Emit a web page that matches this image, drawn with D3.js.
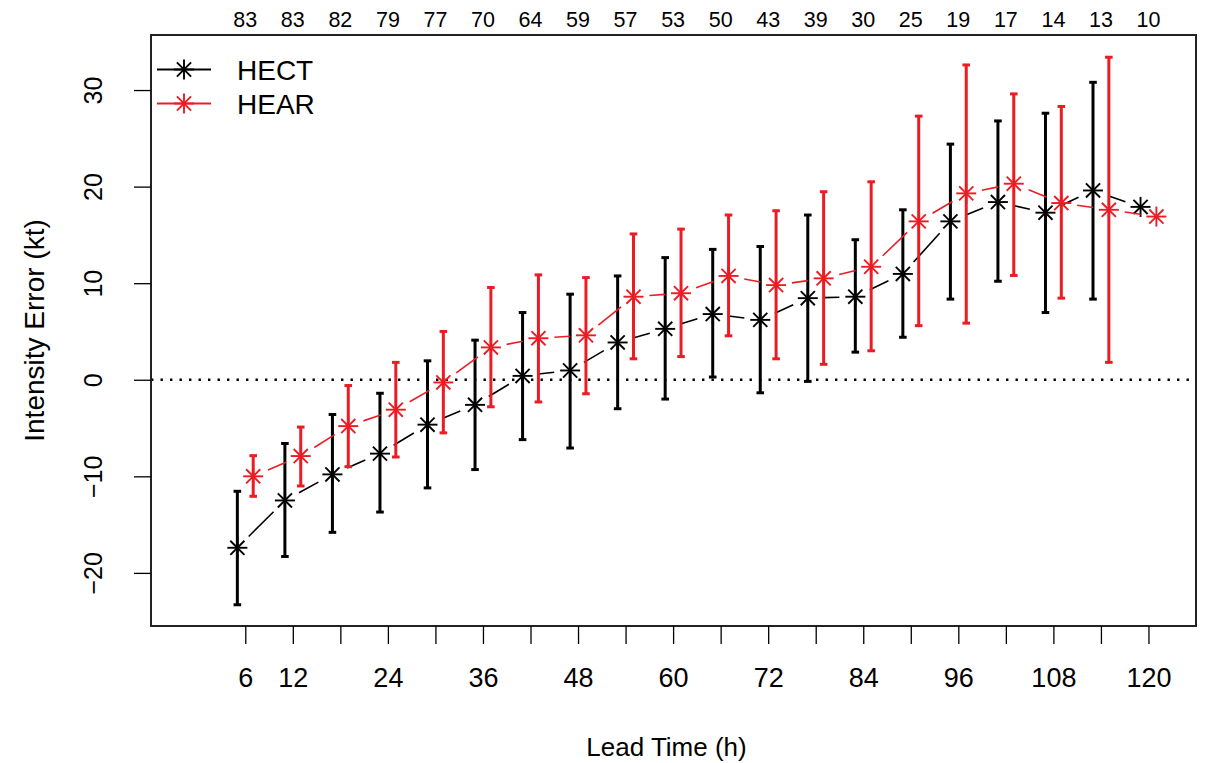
<!DOCTYPE html>
<html>
<head>
<meta charset="utf-8">
<script src="https://cdn.jsdelivr.net/npm/d3@7"></script>
<style>
  html, body { margin: 0; padding: 0; background: #fff; }
  svg text { font-family: "Liberation Sans", Arial, Helvetica, sans-serif; fill: #000; }
</style>
</head>
<body>
<svg id="chart" width="1206" height="763"></svg>
<script>
// ---- data ----
const leadTimes = [6,12,18,24,30,36,42,48,54,60,66,72,78,84,90,96,102,108,114,120];
const xTickLabels = ["6","12","","24","","36","","48","","60","","72","","84","","96","","108","","120"];
const sampleCounts = [83,83,82,79,77,70,64,59,57,53,50,43,39,30,25,19,17,14,13,10];
const yTicks = [-20,-10,0,10,20,30];
const seriesNames = ["HECT","HEAR"];
const seriesColors = ["#000000","#ec1c24"];
const seriesOffsets = [-1, 1];

const hectMean = [-17.4,-12.5,-9.8,-7.65,-4.65,-2.6,0.4,0.96,3.86,5.27,6.8,6.2,8.45,8.6,10.96,16.4,18.4,17.3,19.6,17.9];
const hectLow  = [-23.3,-18.3,-15.8,-13.7,-11.2,-9.3,-6.2,-7.07,-3.0,-2.0,0.28,-1.35,-0.17,2.86,4.4,8.35,10.2,6.96,8.35,null];
const hectHigh = [-11.55,-6.6,-3.6,-1.4,1.96,4.1,6.96,8.86,10.75,12.65,13.5,13.8,17.06,14.5,17.6,24.4,26.8,27.6,30.8,null];

const hearMean = [-10.0,-7.9,-4.8,-3.1,-0.28,3.35,4.3,4.6,8.6,8.96,10.75,9.8,10.5,11.7,16.4,19.3,20.3,18.3,17.6,16.9];
const hearLow  = [-12.07,-11.0,-9.0,-8.0,-5.5,-2.8,-2.3,-1.45,2.17,2.4,4.55,2.17,1.6,3.0,5.6,5.86,10.8,8.45,1.8,null];
const hearHigh = [-7.86,-4.9,-0.6,1.8,5.0,9.55,10.86,10.58,15.1,15.6,17.06,17.5,19.47,20.5,27.3,32.6,29.6,28.3,33.4,null];

// ---- layout ----
const svg = d3.select("#chart");
const L = 151, R = 1196, T = 35, B = 626;
const x = d3.scaleLinear().domain([-5.9, 126.0]).range([L, R]);
const y = d3.scaleLinear().domain([-25.5, 35.7]).range([B, T]);

const series = [
  { name: seriesNames[0], color: seriesColors[0], off: seriesOffsets[0], mean: hectMean, low: hectLow, high: hectHigh },
  { name: seriesNames[1], color: seriesColors[1], off: seriesOffsets[1], mean: hearMean, low: hearLow, high: hearHigh }
];

// zero reference line (dotted)
svg.append("line")
  .attr("x1", L).attr("x2", R).attr("y1", y(0)).attr("y2", y(0))
  .attr("stroke", "#000").attr("stroke-width", 2.4)
  .attr("stroke-dasharray", "2.4,7.1");

// star symbol (R pch = 8)
function star(g, cx, cy, color, r) {
  const d = r / Math.SQRT2;
  const segs = [[-r,0,r,0],[0,-r,0,r],[-d,-d,d,d],[-d,d,d,-d]];
  segs.forEach(s => g.append("line")
    .attr("x1", cx + s[0]).attr("y1", cy + s[1]).attr("x2", cx + s[2]).attr("y2", cy + s[3])
    .attr("stroke", color).attr("stroke-width", 1.9));
}

const gap = 16;
series.forEach(s => {
  const g = svg.append("g");
  const pts = leadTimes.map((t, i) => ({ px: x(t + s.off), py: y(s.mean[i]), i }));
  // connecting lines with gaps around points (type = "b")
  for (let k = 0; k < pts.length - 1; k++) {
    const a = pts[k], b = pts[k + 1];
    const dx = b.px - a.px, dy = b.py - a.py;
    const len = Math.hypot(dx, dy);
    if (len <= 2 * gap) continue;
    const ux = dx / len, uy = dy / len;
    g.append("line")
      .attr("x1", a.px + ux * gap).attr("y1", a.py + uy * gap)
      .attr("x2", b.px - ux * gap).attr("y2", b.py - uy * gap)
      .attr("stroke", s.color).attr("stroke-width", 1.6);
  }
  // error bars
  leadTimes.forEach((t, i) => {
    if (s.low[i] == null || s.high[i] == null) return;
    const cx = x(t + s.off);
    g.append("line")
      .attr("x1", cx).attr("x2", cx).attr("y1", y(s.low[i])).attr("y2", y(s.high[i]))
      .attr("stroke", s.color).attr("stroke-width", 3);
    [s.low[i], s.high[i]].forEach(v => g.append("line")
      .attr("x1", cx - 3.8).attr("x2", cx + 3.8).attr("y1", y(v)).attr("y2", y(v))
      .attr("stroke", s.color).attr("stroke-width", 3));
  });
  // stars
  pts.forEach(p => star(g, p.px, p.py, s.color, 10));
});

// frame
svg.append("rect")
  .attr("x", L).attr("y", T).attr("width", R - L).attr("height", B - T)
  .attr("fill", "none").attr("stroke", "#222").attr("stroke-width", 2);

// x axis
const xAxis = d3.axisBottom(x)
  .tickValues(leadTimes)
  .tickFormat((d, i) => xTickLabels[i])
  .tickSize(18).tickPadding(24);
const gx = svg.append("g").attr("transform", `translate(0,${B})`).call(xAxis);
gx.select(".domain").remove();
gx.selectAll(".tick line").attr("stroke", "#000").attr("stroke-width", 1.3);
gx.selectAll(".tick text").attr("font-size", 27).attr("font-family", "Liberation Sans, Arial, sans-serif").attr("fill", "#000");

// y axis
const fmtY = d => d < 0 ? "\u2212" + Math.abs(d) : String(d);
const yAxis = d3.axisLeft(y).tickValues(yTicks).tickFormat(fmtY).tickSize(17).tickPadding(0);
const gy = svg.append("g").attr("transform", `translate(${L},0)`).call(yAxis);
gy.select(".domain").remove();
gy.selectAll(".tick line").attr("stroke", "#000").attr("stroke-width", 1.3);
gy.selectAll(".tick text").remove();
gy.selectAll(".tick").append("text")
  .attr("transform", `translate(${93 - L},0) rotate(-90)`)
  .attr("text-anchor", "middle").attr("dy", "0.36em")
  .attr("font-size", 25)
  .text(fmtY);

// top sample counts
svg.append("g").selectAll("text").data(sampleCounts).join("text")
  .attr("x", (d, i) => x(leadTimes[i])).attr("y", 27)
  .attr("text-anchor", "middle").attr("font-size", 21.5)
  .text(d => d);

// axis titles
svg.append("text").attr("x", (L + R) / 2 - 7).attr("y", 756)
  .attr("text-anchor", "middle").attr("font-size", 26).text("Lead Time (h)");
svg.append("text").attr("transform", `translate(44,${(T + B) / 2}) rotate(-90)`)
  .attr("text-anchor", "middle").attr("font-size", 28).text("Intensity Error (kt)");

// legend
const lg = svg.append("g");
series.forEach((s, i) => {
  const ly = 69.5 + i * 34;
  lg.append("line").attr("x1", 157).attr("x2", 211).attr("y1", ly).attr("y2", ly)
    .attr("stroke", s.color).attr("stroke-width", 2);
  star(lg, 184, ly, s.color, 10);
  lg.append("text").attr("x", 237).attr("y", ly + 10.5).attr("font-size", 28).text(s.name);
});
</script>
</body>
</html>
